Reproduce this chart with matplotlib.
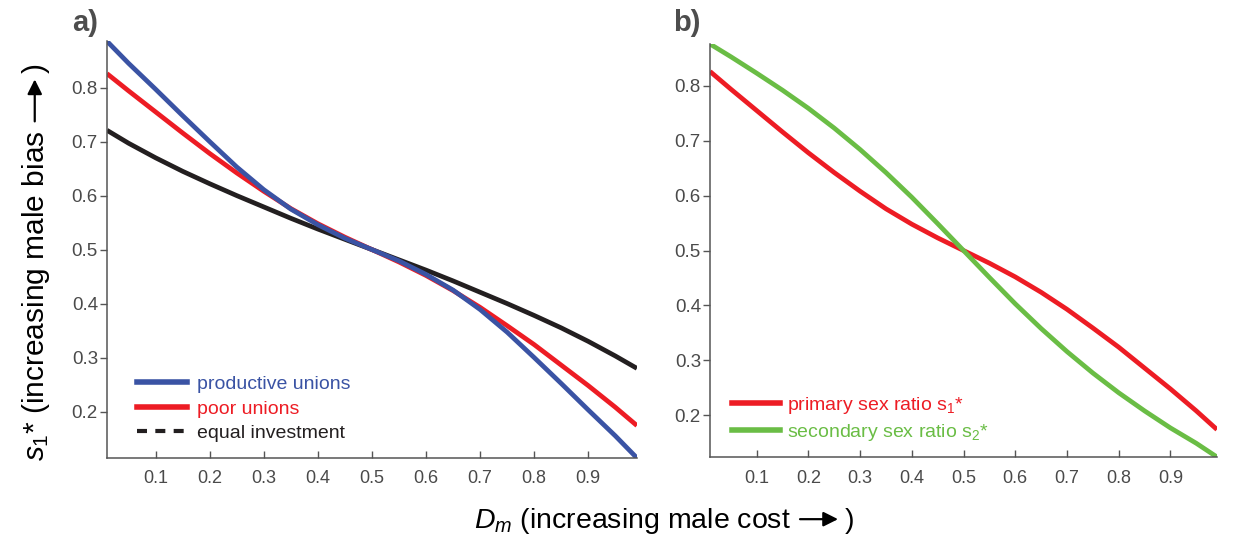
import matplotlib
matplotlib.use("Agg")
import matplotlib.pyplot as plt
from matplotlib.patches import FancyArrowPatch
from matplotlib.transforms import IdentityTransform

# D_m values where the optimal sex ratios were read
d_m = [0.01, 0.05, 0.10, 0.15, 0.20, 0.25, 0.30, 0.35, 0.40, 0.45, 0.50,
       0.55, 0.60, 0.65, 0.70, 0.75, 0.80, 0.85, 0.90, 0.95, 0.99]

# panel a: s1* for the three union types
productive_unions = [0.886, 0.845, 0.797, 0.748, 0.700, 0.653, 0.611, 0.575, 0.546, 0.521, 0.500,
                     0.479, 0.454, 0.425, 0.389, 0.347, 0.300, 0.252, 0.203, 0.155, 0.114]
poor_unions = [0.826, 0.794, 0.755, 0.716, 0.678, 0.642, 0.608, 0.576, 0.548, 0.523, 0.500,
               0.477, 0.452, 0.424, 0.393, 0.359, 0.324, 0.286, 0.248, 0.208, 0.174]
equal_investment = [0.721, 0.697, 0.670, 0.645, 0.622, 0.600, 0.579, 0.558, 0.538, 0.519, 0.500,
                    0.481, 0.462, 0.442, 0.421, 0.400, 0.378, 0.355, 0.330, 0.303, 0.280]

# panel b: primary vs secondary sex ratio
primary_s1 = poor_unions
secondary_s2 = [0.876, 0.853, 0.823, 0.792, 0.759, 0.723, 0.684, 0.642, 0.597, 0.549, 0.500,
                0.451, 0.403, 0.358, 0.316, 0.277, 0.241, 0.208, 0.177, 0.149, 0.124]

x_ticks = [0.1, 0.2, 0.3, 0.4, 0.5, 0.6, 0.7, 0.8, 0.9]
y_ticks = [0.2, 0.3, 0.4, 0.5, 0.6, 0.7, 0.8]

BLUE = "#3a53a4"
RED = "#ed1c24"
GREEN = "#6abd45"
BLACK = "#231f20"
GREY = "#555555"

plt.rcParams["font.family"] = ["Liberation Sans", "DejaVu Sans"]
plt.rcParams["mathtext.fontset"] = "custom"
plt.rcParams["mathtext.rm"] = "Liberation Sans"
plt.rcParams["mathtext.it"] = "Liberation Sans:italic"

fig = plt.figure(figsize=(12.45, 5.42), dpi=100)
ax_a = fig.add_axes([0.0859, 0.155, 0.4257, 0.769])
ax_b = fig.add_axes([0.5703, 0.1568, 0.4072, 0.762])


def style_axis(ax, series):
    ax.set_xlim(d_m[0], d_m[-1])
    ax.set_ylim(min(min(s) for s in series), max(max(s) for s in series))
    for side in ("top", "right"):
        ax.spines[side].set_visible(False)
    for side in ("left", "bottom"):
        ax.spines[side].set_color(GREY)
        ax.spines[side].set_linewidth(1.1)
    ax.set_xticks(x_ticks)
    ax.set_xticklabels([f"{t:.1f}" for t in x_ticks])
    ax.set_yticks(y_ticks)
    ax.set_yticklabels([f"{t:.1f}" for t in y_ticks])
    ax.tick_params(axis="x", direction="in", length=5, width=1, color=GREY,
                   labelcolor="#4a4a4a", labelsize=13, pad=9)
    ax.tick_params(axis="y", direction="out", length=5, width=1, color=GREY,
                   labelcolor="#4a4a4a", labelsize=13.5, pad=1.5)


def arrow_label(text, center, baseline, vertical=False, size=20, arrow_len=38, gap=9):
    """Axis label of the form 'text ⟶)' with a drawn arrow; coordinates in pixels."""
    renderer = fig.canvas.get_renderer()
    kw = dict(fontsize=size, color="black", rotation=90 if vertical else 0,
              rotation_mode="anchor", ha="left", va="baseline", transform=IdentityTransform())
    head = fig.text(0, 0, text, **kw)
    tail = fig.text(0, 0, ")", **kw)
    ext1 = head.get_window_extent(renderer)
    ext2 = tail.get_window_extent(renderer)
    l1 = ext1.height if vertical else ext1.width
    l2 = ext2.height if vertical else ext2.width
    total = l1 + gap + arrow_len + 0.7 * gap + l2
    start = center - total / 2
    a0 = start + l1 + gap
    a1 = a0 + arrow_len
    lift = size * 1.389 * 0.31
    if vertical:
        head.set_position((baseline, start))
        tail.set_position((baseline, a1 + 0.7 * gap))
        p0, p1 = (baseline - lift, a0), (baseline - lift, a1)
    else:
        head.set_position((start, baseline))
        tail.set_position((a1 + 0.7 * gap, baseline))
        p0, p1 = (a0, baseline + lift), (a1, baseline + lift)
    arrow = FancyArrowPatch(p0, p1, arrowstyle="-|>", mutation_scale=22, lw=1.6,
                            color="black", shrinkA=0, shrinkB=0, transform=IdentityTransform())
    fig.add_artist(arrow)


lw = 3.4
ax_a.plot(d_m, equal_investment, color=BLACK, lw=lw, solid_capstyle="butt")
ax_a.plot(d_m, poor_unions, color=RED, lw=lw, solid_capstyle="butt")
ax_a.plot(d_m, productive_unions, color=BLUE, lw=lw, solid_capstyle="butt")
style_axis(ax_a, [productive_unions, poor_unions, equal_investment])

handles = [
    plt.Line2D([], [], color=BLUE, lw=4),
    plt.Line2D([], [], color=RED, lw=4),
    plt.Line2D([], [], color=BLACK, lw=3, ls=(0, (2.4, 2.0))),
]
ax_a.legend(handles, ["productive unions", "poor unions", "equal investment"],
            loc="upper left", bbox_to_anchor=(0.057, 0.198), frameon=False,
            fontsize=14, handlelength=2.55, handletextpad=0.55, labelspacing=0.36,
            borderpad=0, borderaxespad=0, labelcolor=[BLUE, RED, BLACK])

ax_b.plot(d_m, primary_s1, color=RED, lw=lw, solid_capstyle="butt")
ax_b.plot(d_m, secondary_s2, color=GREEN, lw=lw, solid_capstyle="butt")
style_axis(ax_b, [primary_s1, secondary_s2])

handles_b = [plt.Line2D([], [], color=RED, lw=4), plt.Line2D([], [], color=GREEN, lw=4)]
ax_b.legend(handles_b, [r"primary sex ratio s$_1$*", r"secondary sex ratio s$_2$*"],
            loc="upper left", bbox_to_anchor=(0.043, 0.15), frameon=False,
            fontsize=14, handlelength=2.5, handletextpad=0.35, labelspacing=0.32,
            borderpad=0, borderaxespad=0, labelcolor=[RED, GREEN])

# panel letters
fig.text(72 / 1245, 1 - 9 / 542, "a)", fontsize=21, fontweight="bold", color="#4d4d4d",
         ha="left", va="top")
fig.text(673 / 1245, 1 - 9 / 542, "b)", fontsize=21, fontweight="bold", color="#4d4d4d",
         ha="left", va="top")

arrow_label("$s_1$* (increasing male bias", center=280, baseline=44, vertical=True,
            size=21.5, arrow_len=42)
arrow_label("$D_m$ (increasing male cost", center=664, baseline=14, size=20.5)

fig.savefig("out.png", dpi=100)
